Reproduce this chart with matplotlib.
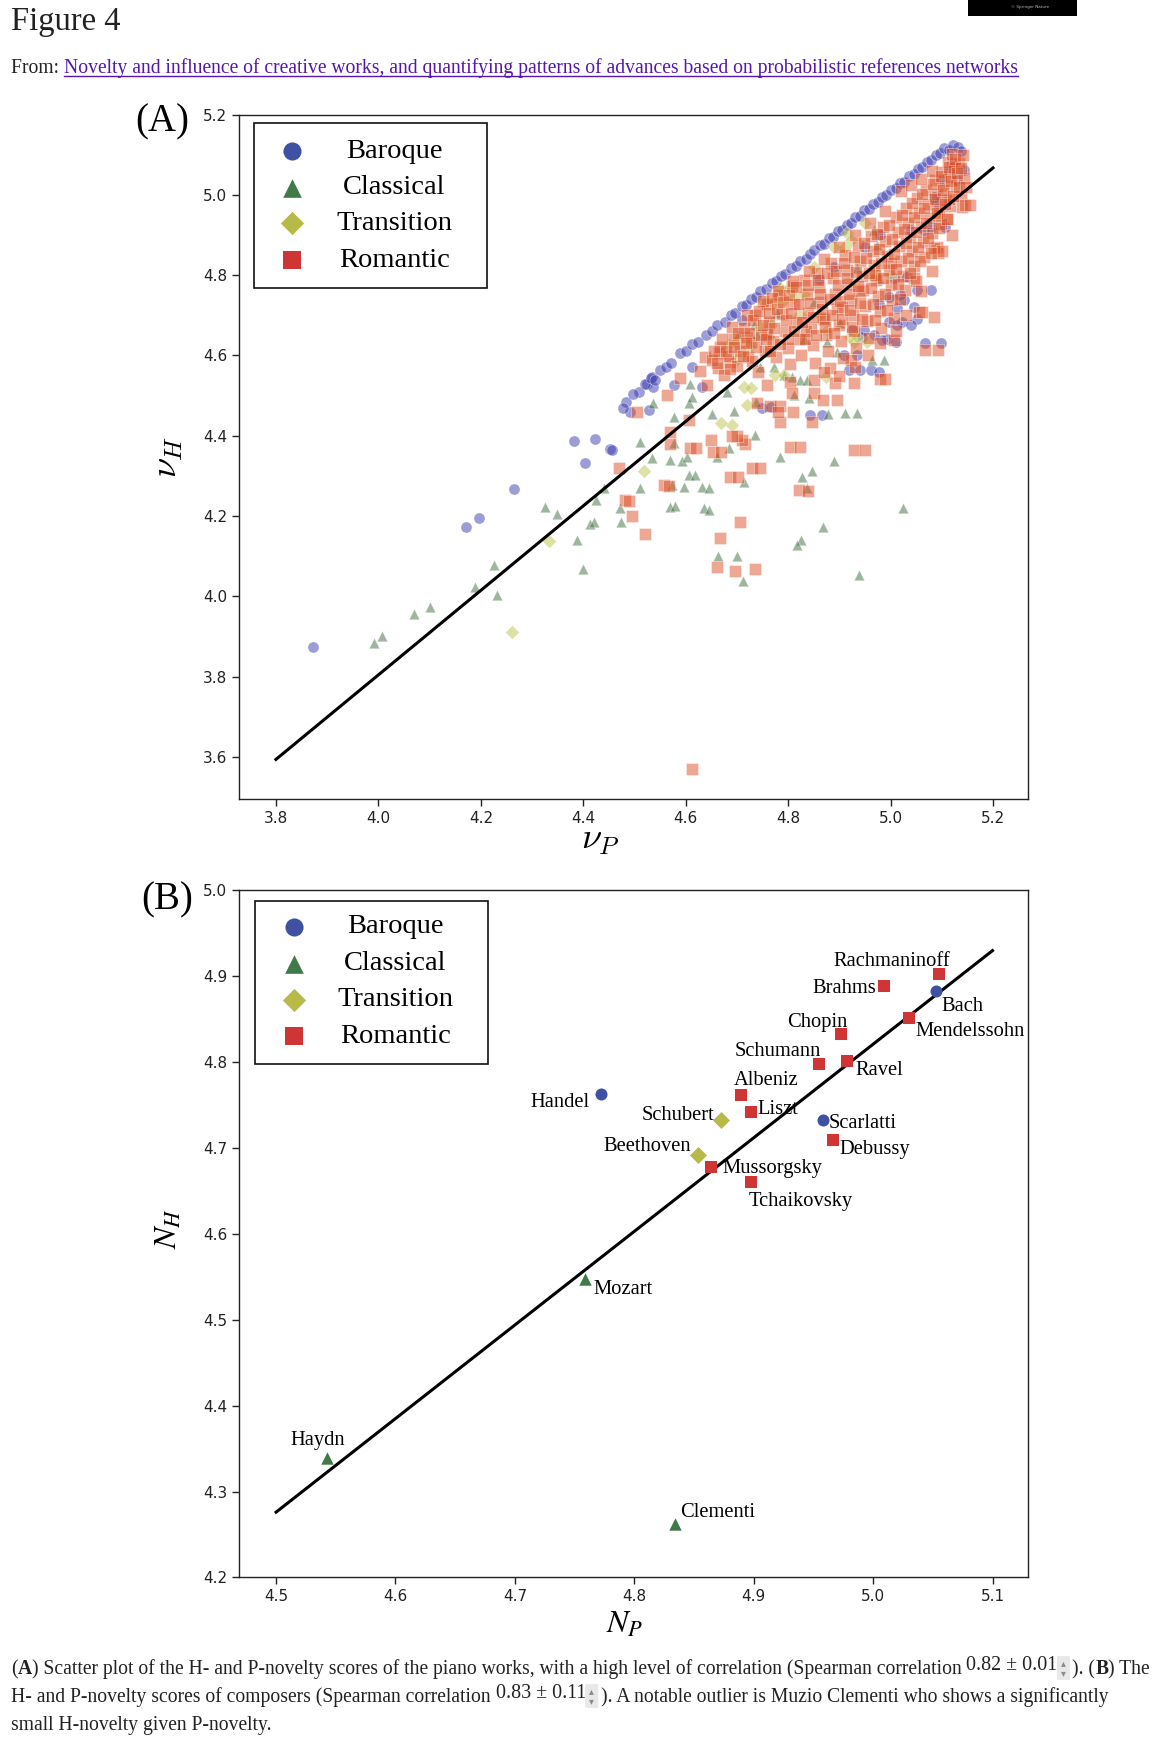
import numpy as np
import matplotlib
matplotlib.use('Agg')
import matplotlib.pyplot as plt
from matplotlib.patches import Rectangle, FancyBboxPatch
from matplotlib.lines import Line2D

# ---------------- data ----------------
# panel A: (nu_P, nu_H) of the piano works, per period
baroque = np.array([
    (3.872, 3.874), (4.171, 4.173), (4.197, 4.195), (4.264, 4.267), (4.382, 4.386),
    (4.423, 4.392), (4.403, 4.331), (4.452, 4.367), (4.456, 4.364),
    (4.484, 4.485), (4.492, 4.460), (4.508, 4.510), (4.524, 4.530), (4.528, 4.464),
    (4.534, 4.547), (4.537, 4.522), (4.550, 4.564), (4.577, 4.526), (4.612, 4.572),
    (4.632, 4.522), (4.710, 4.688), (4.749, 4.468), (4.843, 4.452), (4.866, 4.451),
    (4.766, 4.472),
    (4.478, 4.470), (4.497, 4.505), (4.521, 4.528), (4.533, 4.545), (4.541, 4.538),
    (4.562, 4.571), (4.571, 4.582), (4.589, 4.606), (4.601, 4.611), (4.613, 4.628),
    (4.624, 4.633), (4.639, 4.651), (4.652, 4.660), (4.661, 4.676), (4.677, 4.684),
    (4.688, 4.701), (4.696, 4.705), (4.709, 4.722), (4.718, 4.726), (4.727, 4.741),
    (4.738, 4.746), (4.746, 4.760), (4.757, 4.766), (4.768, 4.781), (4.777, 4.785),
    (4.786, 4.799), (4.794, 4.803), (4.806, 4.818), (4.815, 4.822), (4.823, 4.836),
    (4.834, 4.841), (4.843, 4.853), (4.851, 4.862), (4.862, 4.874), (4.871, 4.878),
    (4.879, 4.892), (4.888, 4.896), (4.897, 4.909), (4.905, 4.913), (4.914, 4.926),
    (4.922, 4.930), (4.931, 4.944), (4.940, 4.948), (4.948, 4.961), (4.957, 4.965),
    (4.966, 4.978), (4.975, 4.982), (4.983, 4.995), (4.992, 4.999), (5.001, 5.012),
    (5.010, 5.016), (5.019, 5.030), (5.027, 5.033), (5.036, 5.047), (5.045, 5.051),
    (5.053, 5.064), (5.062, 5.069), (5.071, 5.082), (5.079, 5.086), (5.088, 5.099),
    (5.097, 5.103), (5.105, 5.116), (5.114, 5.112), (5.122, 5.124), (5.131, 5.118),
    (5.138, 5.108),
    (5.143, 5.061), (5.130, 5.037), (5.114, 5.060), (5.101, 5.037), (5.107, 4.920),
    (5.084, 4.995), (5.078, 4.921), (5.065, 4.912), (5.039, 4.912), (5.078, 4.763),
    (5.052, 4.763), (5.098, 4.630), (5.068, 4.630), (5.045, 4.721), (5.052, 4.692),
    (5.026, 4.738), (5.013, 4.717), (5.023, 4.684), (5.039, 4.675), (4.996, 4.684),
    (5.013, 4.676), (4.993, 4.642), (5.010, 4.634), (4.983, 4.638), (4.967, 4.651),
    (4.948, 4.663), (4.925, 4.663), (4.944, 4.647), (4.909, 4.601), (4.935, 4.601),
    (4.918, 4.564), (4.941, 4.563), (4.961, 4.563), (4.977, 4.559), (5.006, 4.792),
    (5.019, 4.750), (5.032, 4.796), (4.977, 4.729), (4.996, 4.746), (5.090, 4.980),
    (5.120, 5.080), (4.980, 4.900), (4.950, 4.870), (4.890, 4.820), (4.860, 4.790),
])

classical = np.array([
    (3.991, 3.885), (4.008, 3.902), (4.069, 3.957), (4.100, 3.974), (4.189, 4.024),
    (4.225, 4.079), (4.232, 4.004), (4.325, 4.223), (4.349, 4.205), (4.387, 4.141),
    (4.399, 4.069), (4.413, 4.181), (4.421, 4.184), (4.424, 4.240), (4.440, 4.270),
    (4.474, 4.185), (4.472, 4.219), (4.511, 4.269), (4.511, 4.385), (4.534, 4.344),
    (4.570, 4.340), (4.593, 4.336), (4.603, 4.348), (4.606, 4.302), (4.573, 4.277),
    (4.596, 4.273), (4.632, 4.273), (4.570, 4.223), (4.635, 4.219), (4.577, 4.381),
    (4.577, 4.447), (4.537, 4.481), (4.606, 4.481), (4.609, 4.530), (4.612, 4.497),
    (4.580, 4.225), (4.646, 4.216), (4.661, 4.348), (4.684, 4.369), (4.645, 4.270),
    (4.619, 4.302), (4.713, 4.286), (4.736, 4.402), (4.681, 4.510), (4.664, 4.101),
    (4.700, 4.100), (4.711, 4.038), (4.785, 4.348), (4.827, 4.298), (4.847, 4.311),
    (4.889, 4.336), (4.836, 4.270), (4.869, 4.172), (4.825, 4.140), (4.818, 4.128),
    (4.938, 4.054), (5.024, 4.220), (4.912, 4.456), (4.964, 4.589), (4.733, 4.676),
    (4.739, 4.651), (4.703, 4.651), (4.765, 4.655), (4.778, 4.705), (4.824, 4.539),
    (4.837, 4.539), (4.791, 4.551), (4.811, 4.501), (4.840, 4.493), (4.772, 4.572),
    (4.746, 4.572), (4.694, 4.461), (4.651, 4.455), (4.738, 4.483), (4.877, 4.455),
    (4.967, 4.912), (4.974, 4.875), (4.935, 4.817), (4.850, 4.734), (4.831, 4.642),
    (4.876, 4.634), (4.896, 4.609), (4.987, 4.588), (4.808, 4.547), (4.935, 4.456),
    (4.901, 4.682), (4.977, 4.793),
])

transition = np.array([
    (4.260, 3.911), (4.334, 4.137), (4.518, 4.311), (4.690, 4.427), (4.668, 4.433),
    (4.720, 4.477), (4.713, 4.522), (4.727, 4.519), (4.775, 4.551), (4.684, 4.626),
    (4.723, 4.622), (4.752, 4.734), (4.785, 4.767), (4.745, 4.672), (4.811, 4.745),
    (4.889, 4.871), (4.915, 4.904), (4.862, 4.700), (4.928, 4.634), (4.920, 4.645),
    (4.973, 4.800), (4.801, 4.767), (4.772, 4.734), (4.792, 4.738), (4.831, 4.754),
    (4.766, 4.675), (4.824, 4.700), (4.912, 4.871), (4.922, 4.887), (5.000, 4.800),
    (4.935, 4.646), (4.954, 4.634), (4.876, 4.663), (4.792, 4.551), (4.873, 4.547),
    (4.699, 4.633), (4.850, 4.820), (4.950, 4.930), (4.700, 4.590), (4.760, 4.610),
])

romantic = np.array([
    (4.505, 4.458), (4.563, 4.502), (4.589, 4.545), (4.638, 4.597), (4.664, 4.568),
    (4.666, 4.605), (4.687, 4.584), (4.720, 4.646), (4.759, 4.654), (4.759, 4.527),
    (4.739, 4.481), (4.765, 4.473), (4.785, 4.473), (4.804, 4.535), (4.808, 4.506),
    (4.850, 4.506), (4.850, 4.539), (4.869, 4.489), (4.892, 4.531), (4.896, 4.489),
    (4.922, 4.589), (4.928, 4.531), (4.980, 4.541), (4.990, 4.541), (5.006, 4.638),
    (5.055, 4.709), (5.061, 4.709), (5.068, 4.613), (5.091, 4.871), (5.092, 4.855),
    (5.117, 4.971), (5.114, 4.990), (5.090, 4.950), (4.928, 4.365), (4.804, 4.372),
    (4.785, 4.435), (4.847, 4.435), (4.780, 4.460), (4.810, 4.460), (4.729, 4.319),
    (4.687, 4.297), (4.716, 4.380), (4.710, 4.390), (4.700, 4.400), (4.690, 4.400),
    (4.654, 4.360), (4.650, 4.390), (4.609, 4.369), (4.606, 4.439), (4.570, 4.380),
    (4.570, 4.410), (4.469, 4.319), (4.557, 4.277), (4.482, 4.240), (4.821, 4.264),
    (4.490, 4.237), (4.496, 4.199), (4.520, 4.156), (4.567, 4.276), (4.621, 4.370),
    (4.668, 4.360), (4.702, 4.297), (4.707, 4.186), (4.667, 4.145), (4.662, 4.073),
    (4.696, 4.062), (4.735, 4.067), (4.745, 4.319), (4.823, 4.372), (4.839, 4.262),
    (4.951, 4.365), (4.613, 3.570), (5.085, 4.696), (5.092, 4.613), (5.046, 4.793),
    (5.140, 4.970), (5.110, 4.940),
    (4.628, 4.561), (4.641, 4.526), (4.652, 4.589), (4.667, 4.622), (4.674, 4.551),
    (4.683, 4.598), (4.692, 4.641), (4.701, 4.573), (4.706, 4.612), (4.714, 4.668),
    (4.722, 4.595), (4.728, 4.633), (4.735, 4.701), (4.741, 4.559), (4.747, 4.652),
    (4.754, 4.612), (4.759, 4.728), (4.763, 4.684), (4.771, 4.637), (4.776, 4.596),
    (4.782, 4.751), (4.788, 4.703), (4.793, 4.662), (4.799, 4.618), (4.803, 4.578),
    (4.808, 4.772), (4.812, 4.728), (4.817, 4.684), (4.821, 4.641), (4.826, 4.601),
    (4.831, 4.789), (4.836, 4.752), (4.839, 4.706), (4.844, 4.668), (4.848, 4.627),
    (4.852, 4.582), (4.857, 4.806), (4.861, 4.771), (4.864, 4.733), (4.868, 4.694),
    (4.873, 4.652), (4.877, 4.611), (4.881, 4.568), (4.884, 4.829), (4.888, 4.792),
    (4.892, 4.754), (4.895, 4.716), (4.899, 4.675), (4.903, 4.637), (4.907, 4.593),
    (4.911, 4.851), (4.915, 4.813), (4.918, 4.778), (4.922, 4.739), (4.926, 4.701),
    (4.929, 4.662), (4.933, 4.618), (4.937, 4.872), (4.940, 4.836), (4.944, 4.799),
    (4.947, 4.763), (4.951, 4.724), (4.954, 4.686), (4.958, 4.643), (4.961, 4.897),
    (4.965, 4.861), (4.968, 4.824), (4.972, 4.787), (4.975, 4.749), (4.979, 4.711),
    (4.982, 4.668), (4.986, 4.921), (4.989, 4.884), (4.993, 4.848), (4.996, 4.812),
    (5.000, 4.775), (5.003, 4.737), (5.007, 4.693), (5.010, 4.944), (5.014, 4.907),
    (5.017, 4.872), (5.021, 4.836), (5.024, 4.799), (5.028, 4.762), (5.031, 4.968),
    (5.035, 4.931), (5.038, 4.896), (5.042, 4.860), (5.045, 4.823), (5.049, 4.785),
    (5.052, 4.991), (5.056, 4.954), (5.059, 4.919), (5.063, 4.883), (5.066, 4.846),
    (5.070, 5.013), (5.073, 4.977), (5.077, 4.942), (5.080, 4.906), (5.084, 4.868),
    (5.087, 5.036), (5.091, 5.001), (5.094, 4.965), (5.098, 4.928), (5.101, 5.058),
    (5.105, 5.022), (5.108, 4.987), (5.112, 5.081), (5.116, 5.045), (5.120, 5.102),
    (5.124, 5.066), (5.128, 5.021), (5.133, 5.079), (5.137, 4.996), (5.143, 5.041),
    (5.020, 5.010), (4.990, 4.960), (4.960, 4.930), (4.930, 4.900), (4.900, 4.870),
    (4.870, 4.840), (4.840, 4.810), (4.810, 4.785), (4.780, 4.760), (4.750, 4.735),
    (4.720, 4.700), (4.690, 4.670), (5.040, 5.025), (5.060, 5.040), (5.080, 5.060),
    (5.000, 4.830), (4.970, 4.800), (4.940, 4.760), (4.905, 4.720), (4.870, 4.690),
    (4.835, 4.660), (4.800, 4.640), (4.765, 4.610), (4.730, 4.585), (4.870, 4.560),
    (4.900, 4.550), (4.930, 4.570), (4.955, 4.600), (4.980, 4.630), (5.010, 4.660),
    (5.030, 4.700), (5.060, 4.760), (5.080, 4.810), (5.100, 4.860), (5.120, 4.900),
    (4.724, 4.655), (4.731, 4.688), (4.738, 4.622), (4.744, 4.711), (4.751, 4.676),
    (4.757, 4.641), (4.762, 4.705), (4.768, 4.742), (4.773, 4.668), (4.779, 4.716),
    (4.784, 4.628), (4.790, 4.733), (4.795, 4.689), (4.801, 4.751), (4.806, 4.705),
    (4.811, 4.662), (4.816, 4.771), (4.822, 4.727), (4.827, 4.683), (4.833, 4.641),
    (4.838, 4.776), (4.843, 4.731), (4.849, 4.695), (4.854, 4.650), (4.858, 4.788),
    (4.863, 4.752), (4.867, 4.715), (4.872, 4.672), (4.876, 4.806),
    (4.882, 4.740), (4.886, 4.700), (4.890, 4.655), (4.894, 4.810), (4.898, 4.775),
    (4.902, 4.735), (4.906, 4.692), (4.910, 4.829), (4.914, 4.792), (4.918, 4.752),
    (4.921, 4.712), (4.925, 4.672), (4.929, 4.846), (4.933, 4.809), (4.937, 4.772),
    (4.941, 4.730), (4.945, 4.690), (4.949, 4.880), (4.953, 4.842), (4.957, 4.806),
    (4.961, 4.768), (4.965, 4.728), (4.969, 4.688), (4.973, 4.902), (4.977, 4.866),
    (4.981, 4.830), (4.985, 4.792), (4.989, 4.752), (4.993, 4.712), (4.997, 4.925),
    (5.002, 4.890), (5.006, 4.853), (5.010, 4.816), (5.014, 4.778), (5.018, 4.740),
    (5.022, 4.950), (5.026, 4.915), (5.030, 4.880), (5.034, 4.842), (5.038, 4.805),
    (5.042, 4.980), (5.046, 4.944), (5.050, 4.908), (5.054, 4.871), (5.058, 4.834),
    (5.062, 5.002), (5.066, 4.967), (5.070, 4.930), (5.074, 4.893), (5.078, 4.856),
    (5.082, 5.026), (5.086, 4.990), (5.090, 4.954), (5.094, 4.918), (5.098, 5.048),
    (5.102, 5.012), (5.106, 4.976), (5.110, 4.940), (5.114, 5.070), (5.118, 5.034),
    (5.122, 4.998), (5.126, 5.090), (5.130, 5.055), (5.134, 5.020), (5.138, 5.068),
    (5.142, 5.100), (5.148, 5.020), (5.146, 4.975), (5.155, 4.975),
    (4.655, 4.610), (4.662, 4.580), (4.671, 4.640), (4.678, 4.612), (4.686, 4.566),
    (4.694, 4.620), (4.703, 4.655), (4.711, 4.598), (4.717, 4.630),
])

fit_a_x = [3.8, 5.2]
fit_a_y = [3.594, 5.067]

# panel B: composers
composers = ['Rachmaninoff', 'Brahms', 'Bach', 'Mendelssohn', 'Chopin', 'Schumann',
             'Ravel', 'Albeniz', 'Handel', 'Liszt', 'Schubert', 'Scarlatti', 'Debussy',
             'Beethoven', 'Mussorgsky', 'Tchaikovsky', 'Mozart', 'Haydn', 'Clementi']
comp_period = ['Romantic', 'Romantic', 'Baroque', 'Romantic', 'Romantic', 'Romantic',
               'Romantic', 'Romantic', 'Baroque', 'Romantic', 'Transition', 'Baroque',
               'Romantic', 'Transition', 'Romantic', 'Romantic', 'Classical',
               'Classical', 'Classical']
comp_np = [5.055, 5.009, 5.053, 5.030, 4.973, 4.955, 4.978, 4.889, 4.772, 4.898,
           4.873, 4.958, 4.966, 4.853, 4.864, 4.898, 4.759, 4.543, 4.834]
comp_nh = [4.903, 4.889, 4.883, 4.851, 4.833, 4.798, 4.802, 4.762, 4.763, 4.742,
           4.733, 4.733, 4.710, 4.692, 4.678, 4.661, 4.548, 4.339, 4.262]

fit_b_x = [4.5, 5.1]
fit_b_y = [4.276, 4.930]

periods = ['Baroque', 'Classical', 'Transition', 'Romantic']

# ---------------- style ----------------
W, H = 1165, 1743
SERIF = ['Liberation Serif', 'DejaVu Serif']
markers = {'Baroque': 'o', 'Classical': '^', 'Transition': 'D', 'Romantic': 's'}
solid = {'Baroque': '#3f51a3', 'Classical': '#3f7a48', 'Transition': '#b8ba48',
         'Romantic': '#d03536'}
faded = {'Baroque': '#3a3ab0', 'Classical': '#3e6e3e', 'Transition': '#bcc448',
         'Romantic': '#dc5028'}
size_a = {'Baroque': 64, 'Classical': 58, 'Transition': 50, 'Romantic': 66}
size_b = {'Baroque': 75, 'Classical': 80, 'Transition': 75, 'Romantic': 85}
leg_size = {'Baroque': 170, 'Classical': 180, 'Transition': 140, 'Romantic': 160}

plt.rcParams['font.family'] = ['DejaVu Sans']

fig = plt.figure(figsize=(W / 100, H / 100), dpi=100)


def fx(px):
    return px / W


def fy(py):
    return 1 - py / H


def style_axes(ax):
    for sp in ax.spines.values():
        sp.set_linewidth(1.0)
        sp.set_color('#222222')
    ax.tick_params(direction='out', length=5, width=1, labelsize=11, colors='#222222')


def draw_legend(ax, box, mx, tx, rows):
    x0, y0, x1, y1 = box
    ax.add_patch(Rectangle((x0, y0), x1 - x0, y1 - y0, transform=ax.transAxes,
                           facecolor='white', edgecolor='#111111', lw=1.2, zorder=5))
    for p, ry in zip(periods, rows):
        ax.scatter([mx], [ry], s=leg_size[p], marker=markers[p], color=solid[p],
                   transform=ax.transAxes, zorder=6, linewidths=0, clip_on=False)
        ax.text(tx, ry, p, transform=ax.transAxes, ha='center', va='center',
                fontsize=20.5, family=SERIF, zorder=6)


# ---------------- panel A ----------------
axA = fig.add_axes([0.2052, 0.5415, 0.6775, 0.3928])
groups = {'Baroque': baroque, 'Classical': classical, 'Transition': transition,
          'Romantic': romantic}
for p in periods:
    pts = groups[p]
    axA.scatter(pts[:, 0], pts[:, 1], s=size_a[p], marker=markers[p], color=faded[p],
                alpha=0.5, edgecolors='white', linewidths=0.5, zorder=2)
axA.plot(fit_a_x, fit_a_y, color='black', lw=2.2, zorder=3)
axA.set_xlim(3.728, 5.269)
axA.set_ylim(3.495, 5.2)
axA.set_xticks([3.8, 4.0, 4.2, 4.4, 4.6, 4.8, 5.0, 5.2])
axA.set_yticks([3.6, 3.8, 4.0, 4.2, 4.4, 4.6, 4.8, 5.0, 5.2])
axA.xaxis.set_major_formatter(matplotlib.ticker.FormatStrFormatter('%.1f'))
axA.yaxis.set_major_formatter(matplotlib.ticker.FormatStrFormatter('%.1f'))
style_axes(axA)
axA.set_xlabel(r'$\nu_P$', fontsize=26, math_fontfamily='cm')
axA.set_ylabel(r'$\nu_H$', fontsize=26, math_fontfamily='cm')
axA.xaxis.set_label_coords(0.458, -0.035)
axA.yaxis.set_label_coords(-0.068, 0.50)
draw_legend(axA, (0.0183, 0.747, 0.314, 0.987), 0.0676, 0.197,
            [0.946, 0.893, 0.841, 0.787])

# ---------------- panel B ----------------
axB = fig.add_axes([0.2052, 0.0950, 0.6775, 0.3941])
label_offsets = [(-47, 12), (-40, -3), (26, -16), (61, -13), (-24, 11), (-42, 12),
                 (32, -10), (26, 14), (-41, -9), (27, 3), (-43, 4), (40, -4),
                 (42, -10), (-50, 8), (62, -2), (49, -20), (38, -11), (-10, 18),
                 (43, 12)]
for p in periods:
    idx = [i for i, c in enumerate(comp_period) if c == p]
    axB.scatter([comp_np[i] for i in idx], [comp_nh[i] for i in idx], s=size_b[p],
                marker=markers[p], color=solid[p], linewidths=0, zorder=3)
axB.plot(fit_b_x, fit_b_y, color='black', lw=2.2, zorder=2)
for name, x, y, off in zip(composers, comp_np, comp_nh, label_offsets):
    axB.annotate(name, (x, y), xytext=off, textcoords='offset pixels', ha='center',
                 va='center', fontsize=14.8, family=SERIF, zorder=4)
axB.set_xlim(4.469, 5.130)
axB.set_ylim(4.2, 5.0)
axB.set_xticks([4.5, 4.6, 4.7, 4.8, 4.9, 5.0, 5.1])
axB.set_yticks([4.2, 4.3, 4.4, 4.5, 4.6, 4.7, 4.8, 4.9, 5.0])
axB.xaxis.set_major_formatter(matplotlib.ticker.FormatStrFormatter('%.1f'))
axB.yaxis.set_major_formatter(matplotlib.ticker.FormatStrFormatter('%.1f'))
style_axes(axB)
axB.set_xlabel(r'$N_P$', fontsize=23, math_fontfamily='stix')
axB.set_ylabel(r'$N_H$', fontsize=23, math_fontfamily='stix')
axB.xaxis.set_label_coords(0.489, -0.045)
axB.yaxis.set_label_coords(-0.070, 0.508)
draw_legend(axB, (0.0197, 0.748, 0.315, 0.985), 0.069, 0.198,
            [0.947, 0.893, 0.841, 0.788])

# panel letters
fig.text(fx(162), fy(122), '(A)', fontsize=28, family=SERIF, ha='center', va='center')
fig.text(fx(167), fy(900), '(B)', fontsize=28, family=SERIF, ha='center', va='center')

# ---------------- page text ----------------
renderer = fig.canvas.get_renderer()


def text_width(s, **kw):
    a = fig.text(0, 0, s + '|', **kw)
    b = fig.text(0, 0, '|', **kw)
    w = a.get_window_extent(renderer).width - b.get_window_extent(renderer).width
    a.remove()
    b.remove()
    return w


def spinner(x, y):
    fig.patches.append(FancyBboxPatch((fx(x), fy(y + 5)), fx(12), 22 / H,
                                      boxstyle='round,pad=0.0005', transform=fig.transFigure,
                                      facecolor='#e8e8e8', edgecolor='none'))
    fig.text(fx(x + 6), fy(y - 11), '\u25b4', fontsize=7, color='#8a8a8a',
             ha='center', va='center')
    fig.text(fx(x + 6), fy(y - 1), '\u25be', fontsize=7, color='#8a8a8a',
             ha='center', va='center')
    return 15


def write_line(x, y, parts, size=14.1):
    for s, kind in parts:
        if kind == 'icon':
            x += spinner(x, y)
            continue
        kw = dict(fontsize=size, family=SERIF, color='#222222')
        dy = 0
        if kind == 'bold':
            kw['weight'] = 'bold'
        if kind == 'math':
            dy = 4
            kw['fontsize'] = size * 1.02
        fig.text(fx(x), fy(y - dy), s, ha='left', va='baseline', **kw)
        x += text_width(s, **kw)
    return x


fig.text(fx(11), fy(30), 'Figure 4', fontsize=23.5, family=SERIF, color='#222222',
         ha='left', va='baseline')

from_kw = dict(fontsize=14.1, family=SERIF, color='#222222')
fig.text(fx(11), fy(73), 'From: ', ha='left', va='baseline', **from_kw)
x_link = 11 + text_width('From: ', **from_kw)
link = 'Novelty and influence of creative works, and quantifying patterns of advances based on probabilistic references networks'
link_kw = dict(fontsize=14.1, family=SERIF, color='#5516b0')
fig.text(fx(x_link), fy(73), link, ha='left', va='baseline', **link_kw)
w_link = text_width(link, **link_kw)
fig.add_artist(Line2D([fx(x_link), fx(x_link + w_link)], [fy(76), fy(76)],
                      color='#5516b0', lw=1.0, transform=fig.transFigure))

# black badge, top right
fig.patches.append(Rectangle((fx(968), fy(16)), fx(1077) - fx(968), 16 / H,
                             transform=fig.transFigure, facecolor='black',
                             edgecolor='none'))
fig.text(fx(1030), fy(7), '\u00a9 Springer Nature', fontsize=3, color='#bbbbbb',
         ha='center', va='center')

write_line(11, 1674, [('(', 'n'), ('A', 'bold'),
                      (') Scatter plot of the H- and P-novelty scores of the piano works, '
                       'with a high level of correlation (Spearman correlation ', 'n'),
                      ('0.82 \u00b1 0.01', 'math'), ('', 'icon'), ('). (', 'n'),
                      ('B', 'bold'), (') The', 'n')])
write_line(11, 1702, [('H- and P-novelty scores of composers (Spearman correlation ', 'n'),
                      ('0.83 \u00b1 0.11', 'math'), ('', 'icon'),
                      ('). A notable outlier is Muzio Clementi who shows a significantly',
                       'n')])
write_line(11, 1730, [('small H-novelty given P-novelty.', 'n')])

fig.savefig('out.png', dpi=100, facecolor='white')
